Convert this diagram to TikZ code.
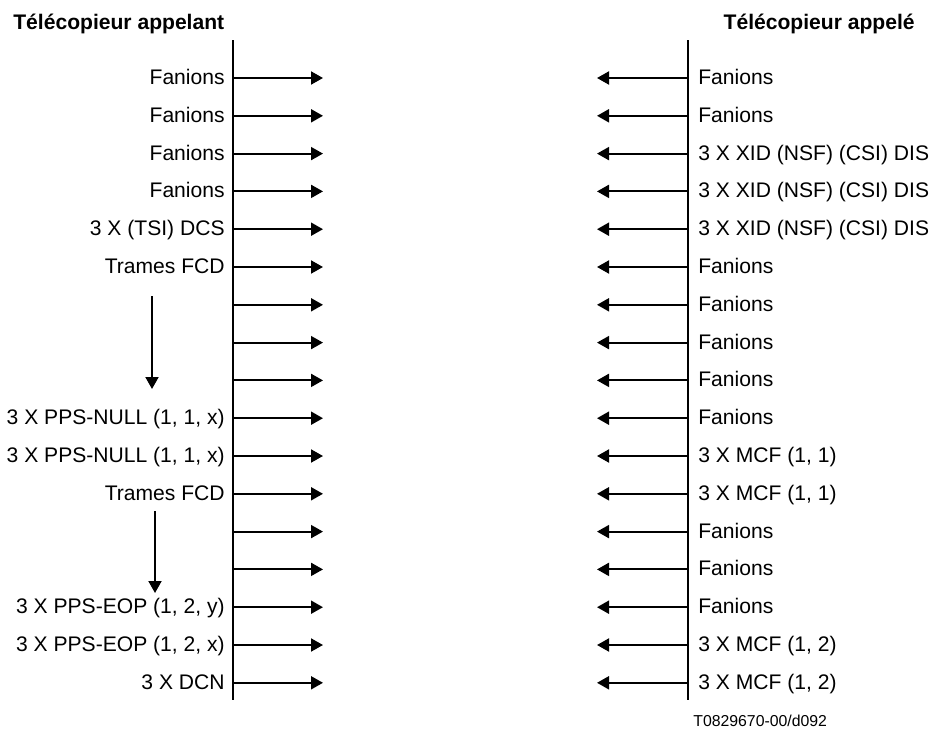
\documentclass[tikz,border=0pt]{standalone}
\usepackage{fontspec}
\setmainfont{Liberation Sans}
\usetikzlibrary{arrows.meta,positioning}

\tikzset{
  msg/.style={-{Triangle[length=0.24cm,width=0.26cm]},line width=1.1pt},
  lbl/.style={inner sep=0pt,font=\fontsize{12}{14}\selectfont},
  ttl/.style={inner sep=0pt,font=\fontsize{12}{14}\selectfont\bfseries}
}

\begin{document}
\begin{tikzpicture}[x=0.02cm,y=-0.02cm]
  \useasboundingbox (0,0) rectangle (933,730);
  % titles
  \node[ttl,anchor=base west] (calling) at (13,30) {Télécopieur appelant};
  \node[ttl,anchor=base east] (called) at (915,30) {Télécopieur appelé};
  % time lines
  \coordinate (Ltop) at (233,40);
  \coordinate (Lbot) at (233,700);
  \coordinate (Rtop) at (688,40);
  \coordinate (Rbot) at (688,700);
  \draw[line width=1.1pt] (Ltop) -- (Lbot);
  \draw[line width=1.1pt] (Rtop) -- (Rbot);
  % messages
  \foreach \i in {1,...,17}{
    \pgfmathsetmacro{\yy}{78+37.8*(\i-1)}
    \coordinate (L\i) at (233,\yy);
    \coordinate (Lt\i) at (323,\yy);
    \coordinate (R\i) at (688,\yy);
    \coordinate (Rt\i) at (597,\yy);
    \draw[msg] (L\i) -- (Lt\i);
    \draw[msg] (R\i) -- (Rt\i);
  }
  \foreach \i/\txt in {1/Fanions,2/Fanions,3/Fanions,4/Fanions,5/3 X (TSI) DCS,
      6/Trames FCD,10/{3 X PPS-NULL (1, 1, x)},11/{3 X PPS-NULL (1, 1, x)},
      12/Trames FCD,15/{3 X PPS-EOP (1, 2, y)},16/{3 X PPS-EOP (1, 2, x)},17/3 X DCN}{
    \node[lbl,anchor=base east] (ltxt\i) at ([xshift=-8*0.02cm,yshift=-6.5*0.02cm]L\i) {\txt};
  }
  \foreach \i/\txt in {1/Fanions,2/Fanions,3/{3 X XID (NSF) (CSI) DIS},
      4/{3 X XID (NSF) (CSI) DIS},5/{3 X XID (NSF) (CSI) DIS},6/Fanions,7/Fanions,
      8/Fanions,9/Fanions,10/Fanions,11/{3 X MCF (1, 1)},12/{3 X MCF (1, 1)},
      13/Fanions,14/Fanions,15/Fanions,16/{3 X MCF (1, 2)},17/{3 X MCF (1, 2)}}{
    \node[lbl,anchor=base west] (rtxt\i) at ([xshift=10*0.02cm,yshift=-6.5*0.02cm]R\i) {\txt};
  }
  % FCD frames go on
  \coordinate (d1a) at (152,296);
  \coordinate (d1b) at (152,389);
  \coordinate (d2a) at (155,511);
  \coordinate (d2b) at (155,593);
  \draw[msg] (d1a) -- (d1b);
  \draw[msg] (d2a) -- (d2b);
  \node[inner sep=0pt,anchor=base west,font=\fontsize{9}{10}\selectfont] (ref) at (693,726) {T0829670-00/d092};
\end{tikzpicture}
\end{document}
